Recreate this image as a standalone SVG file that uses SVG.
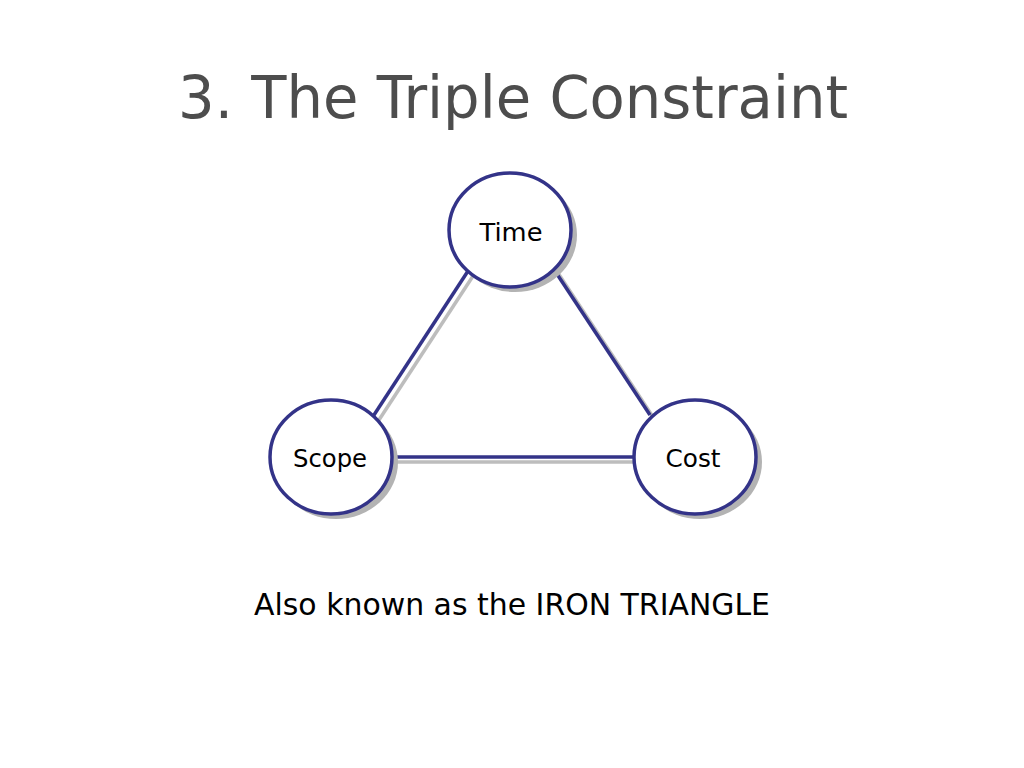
<svg xmlns="http://www.w3.org/2000/svg" width="1024" height="768" viewBox="0 0 1024 768">
<style>
.title{font-family:"DejaVu Sans","Liberation Sans",sans-serif;font-size:59px;fill:#4d4d4d}
.sub{font-family:"DejaVu Sans","Liberation Sans",sans-serif;font-size:30px;fill:#000}
.lbl{font-family:"DejaVu Sans","Liberation Sans",sans-serif;font-size:25px;fill:#000;text-anchor:middle}
.node{fill:#fff;stroke:#333388;stroke-width:3.5}
.shadow{fill:#b3b3b3}
.edge{stroke:#333388;stroke-width:3.5;fill:none}
.eshadow{stroke:#bdbdbd;stroke-width:3.5;fill:none}
</style>
<rect width="1024" height="768" fill="#fff"/>
<text class="title" x="178" y="118" textLength="670" lengthAdjust="spacingAndGlyphs">3. The Triple Constraint</text>
<g id="connectors">
<line class="eshadow" x1="473" y1="276" x2="377" y2="423"/>
<line class="eshadow" x1="558" y1="273" x2="655" y2="420"/>
<line class="eshadow" x1="393" y1="462" x2="633" y2="462"/>
<line class="edge" x1="468" y1="271" x2="372" y2="418"/>
<line class="edge" x1="553" y1="268" x2="650" y2="415"/>
<line class="edge" x1="393" y1="457" x2="633" y2="457"/>
</g>
<g id="node-time">
<ellipse class="shadow" cx="515" cy="235" rx="62" ry="57"/>
<ellipse class="node" cx="510" cy="230" rx="61" ry="57"/>
<text class="lbl" x="511" y="241" textLength="63" lengthAdjust="spacingAndGlyphs">Time</text>
</g>
<g id="node-scope">
<ellipse class="shadow" cx="336" cy="462" rx="62" ry="57"/>
<ellipse class="node" cx="331" cy="457" rx="61" ry="57"/>
<text class="lbl" x="330" y="467" textLength="74" lengthAdjust="spacingAndGlyphs">Scope</text>
</g>
<g id="node-cost">
<ellipse class="shadow" cx="700" cy="462" rx="62" ry="57"/>
<ellipse class="node" cx="695" cy="457" rx="61" ry="57"/>
<text class="lbl" x="693" y="467" textLength="55" lengthAdjust="spacingAndGlyphs">Cost</text>
</g>
<text class="sub" x="254" y="615" textLength="516" lengthAdjust="spacingAndGlyphs">Also known as the IRON TRIANGLE</text>
</svg>
